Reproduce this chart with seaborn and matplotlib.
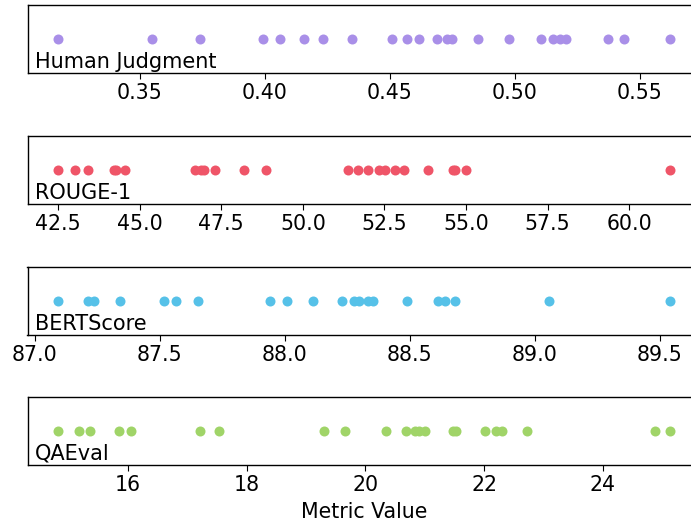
import numpy as np
import pandas as pd
import matplotlib
matplotlib.use("Agg")
import matplotlib.pyplot as plt
import seaborn as sns

# valores
human = [0.3173, 0.355, 0.3741, 0.3993, 0.406, 0.4157, 0.4233, 0.4349, 0.4511,
         0.4569, 0.4617, 0.4691, 0.4729, 0.4751, 0.4855, 0.4977, 0.5104, 0.5155,
         0.518, 0.5204, 0.5372, 0.5436, 0.5623]
rouge = [42.5, 43.01, 43.43, 44.2, 44.27, 44.55, 46.68, 46.88, 46.96, 47.32,
         48.21, 48.87, 51.37, 51.68, 52.01, 52.33, 52.53, 52.81, 53.09, 53.83,
         54.6, 54.65, 55.0, 61.26]
bert = [87.093, 87.213, 87.237, 87.34, 87.517, 87.564, 87.653, 87.94, 88.007,
        88.113, 88.227, 88.276, 88.296, 88.333, 88.353, 88.491, 88.613, 88.64,
        88.681, 89.056, 89.543]
qaeval = [14.82, 15.175, 15.355, 15.85, 16.045, 17.207, 17.527, 19.31, 19.648,
          20.35, 20.687, 20.827, 20.895, 21.01, 21.47, 21.52, 22.01, 22.2, 22.31,
          22.72, 24.88, 25.14]

names = ["Human Judgment", "ROUGE-1", "BERTScore", "QAEval"]
series = [human, rouge, bert, qaeval]
colors = ["#a98fe8", "#ef5568", "#56c1e8", "#a0d468"]

sns.set_style("white")
plt.rcParams["font.family"] = ["DejaVu Sans"]
plt.rcParams["text.color"] = "black"
plt.rcParams["xtick.color"] = "black"
plt.rcParams["axes.labelcolor"] = "black"
plt.rcParams["savefig.bbox"] = "standard"

fig = plt.figure(figsize=(6.91, 5.23), dpi=100)
W, H = 691, 523
left, full_w = 27.5, 673.5      # el eje original sigue mas alla del borde
vis_w = W - left
tops = [5, 136, 267, 397]
for i, (name, vals, col) in enumerate(zip(names, series, colors)):
    ax = fig.add_axes([left / W, 1 - (tops[i] + 68) / H, vis_w / W, 68 / H])
    sns.stripplot(x=vals, ax=ax, color=col, jitter=False, size=7.2, linewidth=0)
    lo, hi = min(vals), max(vals)
    pad = 0.05 * (hi - lo)
    span = (hi - lo + 2 * pad) * vis_w / full_w
    ax.set_xlim(lo - pad, lo - pad + span)
    ax.set_yticks([])
    ax.tick_params(axis="x", labelsize=14.8, bottom=True, length=4, color="black")
    for sp in ax.spines.values():
        sp.set_color("black")
        sp.set_linewidth(1)
    ax.spines["right"].set_visible(False)
    ax.text(0.011 * full_w / vis_w, 0.02, name, transform=ax.transAxes,
            fontsize=15, va="bottom", ha="left")
    if i == 3:
        ax.set_xlabel("Metric Value", fontsize=14.8)
        ax.xaxis.set_label_coords((364 - left) / vis_w, -0.54)

fig.savefig("out.png", dpi=100)
